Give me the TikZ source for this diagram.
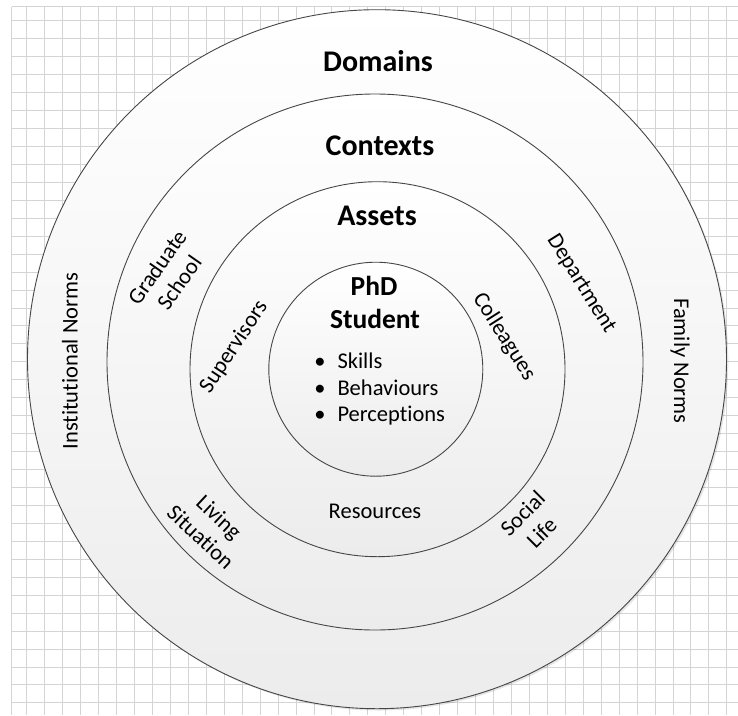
\documentclass[tikz,border=0pt]{standalone}
\usepackage{fontspec}
\setmainfont{Carlito}[Ligatures=NoCommon]
\definecolor{gridc}{RGB}{212,212,212}
\definecolor{ringline}{RGB}{70,70,70}
\definecolor{ringbot}{RGB}{236,236,236}
\begin{document}
\begin{tikzpicture}[x=1pt,y=-1pt,
  ring/.style={draw=ringline, line width=0.9pt, top color=white, bottom color=ringbot},
  gridline/.style={draw=gridc, line width=0.8pt},
  head/.style={font=\fontsize{30}{36}\selectfont\bfseries, anchor=base, inner sep=0pt},
  stud/.style={font=\fontsize{27.5}{33}\selectfont\bfseries, anchor=base, inner sep=0pt},
  lab/.style={font=\fontsize{22.5}{27}\selectfont, align=center, inner sep=0pt},
  item/.style={font=\fontsize{22.5}{27}\selectfont, anchor=base west, inner sep=0pt},
  bul/.style={font=\fontsize{22.5}{27}\selectfont, anchor=base, inner sep=0pt}]
\useasboundingbox (0,0) rectangle (738,715);
\fill[white] (0,0) rectangle (738,715);
% grid background
\foreach \k in {0,...,39} \draw[gridline] ({26.7+17.95*\k},6.7) -- ({26.7+17.95*\k},715);
\draw[gridline] (11.7,6.7) -- (11.7,715);
\foreach \k in {0,...,38} \draw[gridline] (11.7,{20.7+17.95*\k}) -- (738,{20.7+17.95*\k});
\draw[gridline] (11.7,6.7) -- (738,6.7);
% rings
\fill[black,opacity=0.10] (378.8,361) circle (349.5);
\draw[ring] (377,359.2) circle (349.5);
\draw[ring] (375,362) circle (268);
\draw[ring] (377.5,369.2) circle (187.5);
\draw[ring] (375.8,369.2) circle (107);
% headings
\node[head] (domains) at (378,71.7) {Domains};
\node[head] (contexts) at (380,155) {Contexts};
\node[head] (assets) at (377,225) {Assets};
\node[stud] (phd) at (374,295) {PhD};
\node[stud] (student) at (375,328.3) {Student};
% bullets
\node[bul] (b1) at (320,368.3) {•};
\node[bul] (b2) at (320,395) {•};
\node[bul] (b3) at (320,421.7) {•};
\node[item] (skills) at (337.3,368.3) {Skills};
\node[item] (behav) at (337.3,395) {Behaviours};
\node[item] (perc) at (337.3,421.7) {Perceptions};
% ring labels
\node[lab, rotate=90] (inst) at (70,361) {Institutional Norms};
\node[lab, rotate=-90] (family) at (680,361) {Family Norms};
\node[lab, rotate=55] (grad) at (168,275) {Graduate\\School};
\node[lab, rotate=56.5] (sup) at (234,347) {Supervisors};
\node[lab, rotate=-58] (dept) at (581,284) {Department};
\node[lab, rotate=-57.6] (coll) at (504,337) {Colleagues};
\node[lab, rotate=-43] (living) at (210,527) {Living\\Situation};
\node[lab, rotate=45] (social) at (532,523) {Social\\Life};
\node[lab, anchor=base] (res) at (375,518.3) {Resources};
\end{tikzpicture}
\end{document}
